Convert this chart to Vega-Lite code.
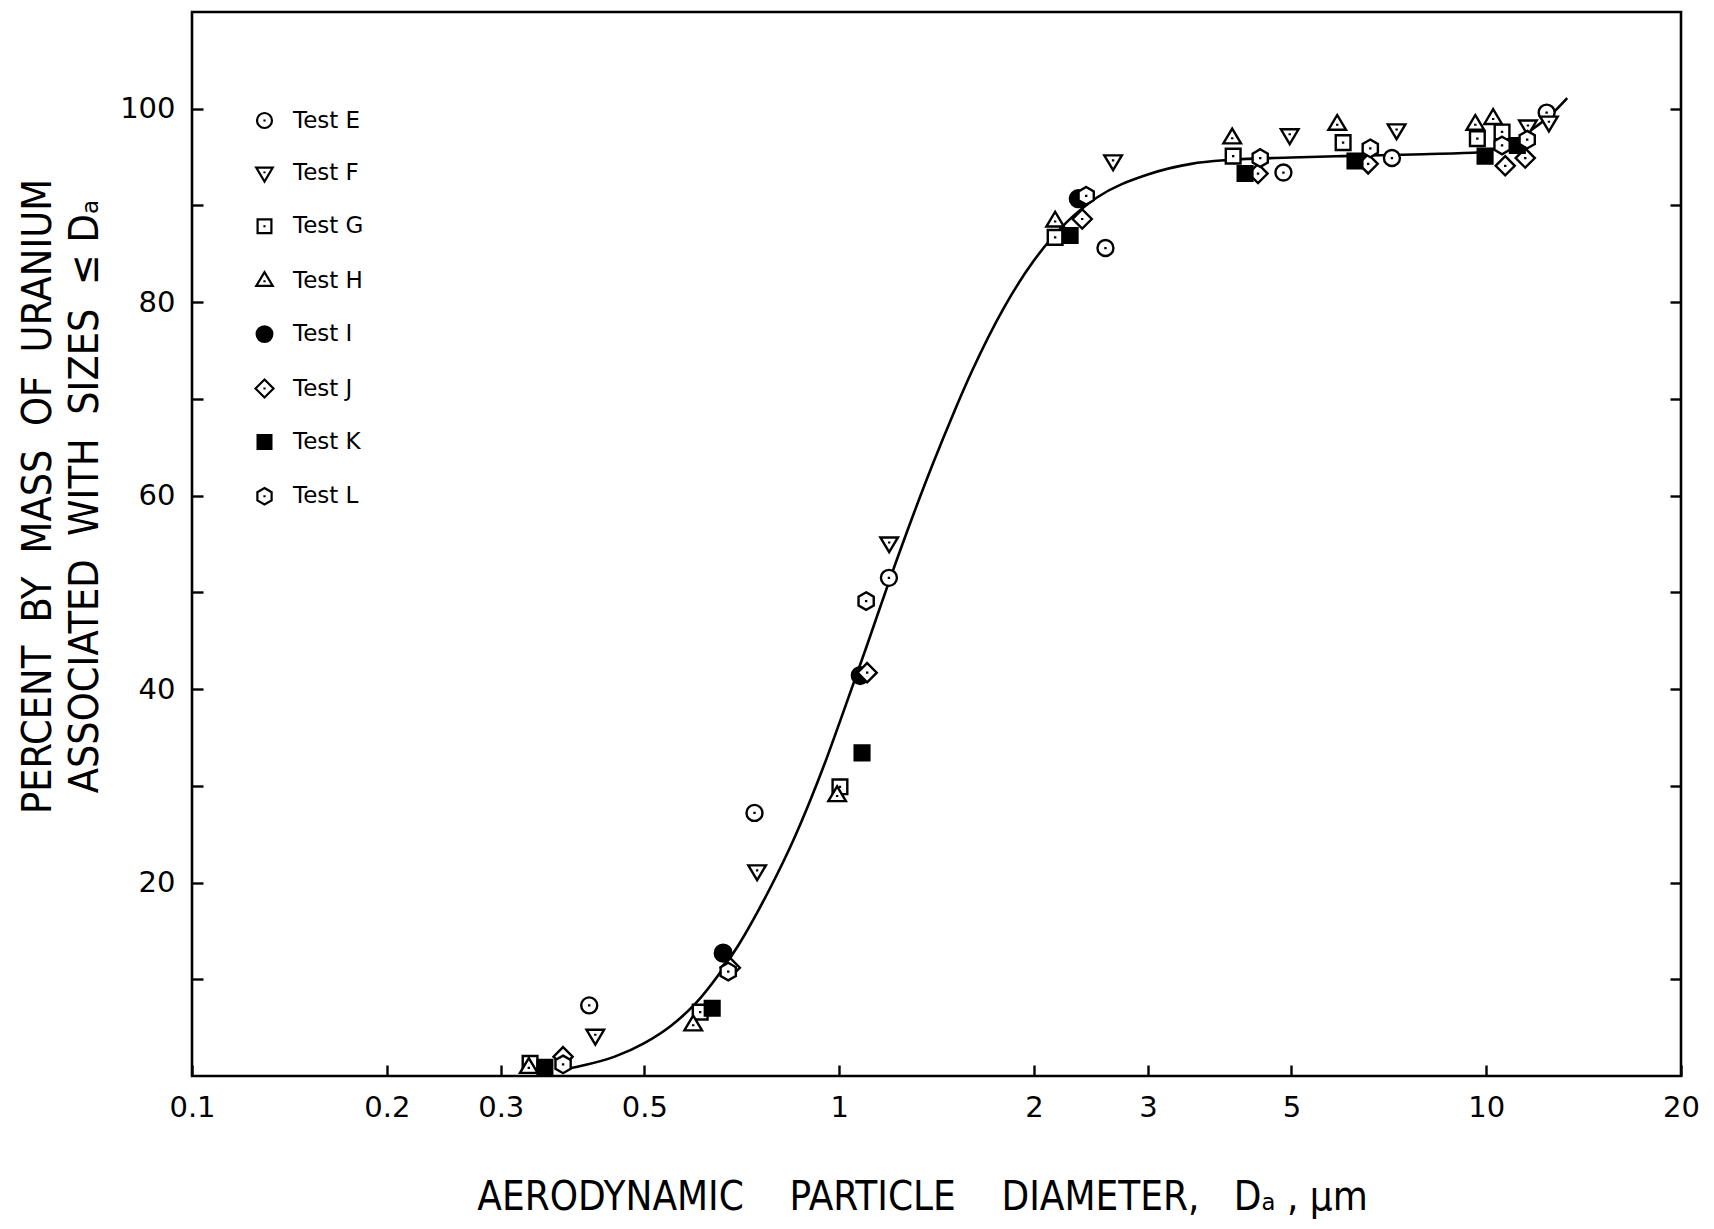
{
  "$schema": "https://vega.github.io/schema/vega-lite/v6.json",
  "width": 1489,
  "height": 1064,
  "autosize": "none",
  "padding": {"left": 192, "top": 12, "right": 33, "bottom": 153},
  "background": "white",
  "config": {
    "view": {"stroke": "black", "strokeWidth": 2.6},
    "axis": {"grid": false, "domain": false, "tickColor": "black", "tickWidth": 2.4, "labelColor": "black", "titleColor": "black"}
  },
  "datasets": {
    "pts": [
      {"test": "Test E", "d": 0.411, "p": 7.3},
      {"test": "Test E", "d": 0.74, "p": 27.2},
      {"test": "Test E", "d": 1.194, "p": 51.5},
      {"test": "Test E", "d": 2.58, "p": 85.6},
      {"test": "Test E", "d": 4.86, "p": 93.4},
      {"test": "Test E", "d": 7.15, "p": 94.9},
      {"test": "Test E", "d": 12.4, "p": 99.6},
      {"test": "Test F", "d": 0.42, "p": 4.2},
      {"test": "Test F", "d": 0.747, "p": 21.2},
      {"test": "Test F", "d": 1.195, "p": 55.1},
      {"test": "Test F", "d": 2.651, "p": 94.6},
      {"test": "Test F", "d": 4.97, "p": 97.3},
      {"test": "Test F", "d": 7.27, "p": 97.8},
      {"test": "Test F", "d": 11.6, "p": 98.2},
      {"test": "Test F", "d": 12.5, "p": 98.6},
      {"test": "Test G", "d": 0.333, "p": 1.3},
      {"test": "Test G", "d": 0.61, "p": 6.6},
      {"test": "Test G", "d": 1.003, "p": 29.9},
      {"test": "Test G", "d": 2.157, "p": 86.7},
      {"test": "Test G", "d": 4.064, "p": 95.1},
      {"test": "Test G", "d": 6.01, "p": 96.5},
      {"test": "Test G", "d": 9.69, "p": 96.9},
      {"test": "Test G", "d": 10.58, "p": 97.6},
      {"test": "Test H", "d": 0.3315, "p": 0.9},
      {"test": "Test H", "d": 0.595, "p": 5.3},
      {"test": "Test H", "d": 0.993, "p": 29.0},
      {"test": "Test H", "d": 2.157, "p": 88.4},
      {"test": "Test H", "d": 4.05, "p": 97.0},
      {"test": "Test H", "d": 5.885, "p": 98.4},
      {"test": "Test H", "d": 9.62, "p": 98.4},
      {"test": "Test H", "d": 10.25, "p": 99.0},
      {"test": "Test I", "d": 0.662, "p": 12.7},
      {"test": "Test I", "d": 1.078, "p": 41.4},
      {"test": "Test I", "d": 2.342, "p": 90.7},
      {"test": "Test J", "d": 0.3745, "p": 2.0},
      {"test": "Test J", "d": 0.679, "p": 11.2},
      {"test": "Test J", "d": 1.105, "p": 41.7},
      {"test": "Test J", "d": 2.375, "p": 88.6},
      {"test": "Test J", "d": 4.44, "p": 93.3},
      {"test": "Test J", "d": 6.57, "p": 94.3},
      {"test": "Test J", "d": 10.7, "p": 94.1},
      {"test": "Test J", "d": 11.49, "p": 94.9},
      {"test": "Test K", "d": 0.351, "p": 0.9},
      {"test": "Test K", "d": 0.6366, "p": 7.0},
      {"test": "Test K", "d": 1.085, "p": 33.4},
      {"test": "Test K", "d": 2.275, "p": 86.9},
      {"test": "Test K", "d": 4.24, "p": 93.3},
      {"test": "Test K", "d": 6.27, "p": 94.6},
      {"test": "Test K", "d": 9.96, "p": 95.1},
      {"test": "Test K", "d": 11.17, "p": 96.2},
      {"test": "Test L", "d": 0.3745, "p": 1.2},
      {"test": "Test L", "d": 0.674, "p": 10.8},
      {"test": "Test L", "d": 1.101, "p": 49.1},
      {"test": "Test L", "d": 2.409, "p": 91.0},
      {"test": "Test L", "d": 4.475, "p": 94.9},
      {"test": "Test L", "d": 6.62, "p": 95.9},
      {"test": "Test L", "d": 10.58, "p": 96.2},
      {"test": "Test L", "d": 11.57, "p": 96.8}
    ],
    "curve": [
      {"d": 0.37, "p": 0.6},
      {"d": 0.4, "p": 1.05},
      {"d": 0.45, "p": 2.0},
      {"d": 0.5, "p": 3.4},
      {"d": 0.55, "p": 5.2},
      {"d": 0.6, "p": 7.5},
      {"d": 0.65, "p": 10.4},
      {"d": 0.7, "p": 13.6},
      {"d": 0.75, "p": 17.1},
      {"d": 0.8, "p": 20.7},
      {"d": 0.85, "p": 24.4},
      {"d": 0.9, "p": 28.3},
      {"d": 0.95, "p": 32.3},
      {"d": 1.0, "p": 36.4},
      {"d": 1.1, "p": 44.2},
      {"d": 1.2, "p": 51.5},
      {"d": 1.3, "p": 57.9},
      {"d": 1.4, "p": 63.5},
      {"d": 1.5, "p": 68.4},
      {"d": 1.6, "p": 72.7},
      {"d": 1.8, "p": 79.5},
      {"d": 2.0, "p": 84.3},
      {"d": 2.25, "p": 88.3},
      {"d": 2.5, "p": 90.8},
      {"d": 3.0, "p": 93.2},
      {"d": 3.5, "p": 94.3},
      {"d": 4.0, "p": 94.7},
      {"d": 5.0, "p": 94.95},
      {"d": 6.0, "p": 95.1},
      {"d": 8.0, "p": 95.3},
      {"d": 9.8, "p": 95.5},
      {"d": 10.4, "p": 95.9},
      {"d": 11.0, "p": 96.6},
      {"d": 11.8, "p": 97.9},
      {"d": 12.6, "p": 99.4},
      {"d": 13.34, "p": 101.1}
    ]
  },
  "layer": [
    {
      "data": {"name": "curve"},
      "mark": {"type": "line", "interpolate": "monotone", "stroke": "black", "strokeWidth": 2.6},
      "encoding": {
        "x": {
          "field": "d", "type": "quantitative",
          "scale": {"type": "log", "domain": [0.1, 20], "nice": false},
          "axis": {
            "orient": "bottom",
            "values": [0.1, 0.2, 0.3, 0.5, 1, 2, 3, 5, 10, 20],
            "format": "~g",
            "tickSize": -11,
            "labelPadding": 28,
            "labelFont": "DejaVu Sans",
            "labelFontSize": 29,
            "labelFlush": false,
            "labelOverlap": false,
            "title": "AERODYNAMIC\u00a0\u00a0\u00a0\u00a0PARTICLE\u00a0\u00a0\u00a0\u00a0DIAMETER,\u00a0\u00a0\u00a0Dₐ\u00a0,\u00a0μm",
            "titleFont": "DejaVu Sans Condensed, Liberation Sans Narrow, DejaVu Sans",
            "titleFontSize": 40,
            "titleFontWeight": "normal",
            "titleX": 730,
            "titleY": 133,
            "titleAlign": "center",
            "titleBaseline": "alphabetic",
            "titleAnchor": null
          }
        },
        "y": {
          "field": "p", "type": "quantitative",
          "scale": {"domain": [0, 110], "nice": false},
          "axis": {
            "orient": "left",
            "values": [10, 20, 30, 40, 50, 60, 70, 80, 90, 100],
            "labelExpr": "datum.value % 20 == 0 ? datum.label : ''",
            "tickSize": -11,
            "labelPadding": 28,
            "labelFont": "DejaVu Sans",
            "labelFontSize": 29,
            "labelOverlap": false,
            "title": ["PERCENT\u00a0\u00a0BY\u00a0\u00a0MASS\u00a0\u00a0OF\u00a0\u00a0URANIUM", "ASSOCIATED\u00a0\u00a0WITH\u00a0\u00a0SIZES\u00a0\u00a0≤\u00a0Dₐ"],
            "titleFont": "DejaVu Sans Condensed, Liberation Sans Narrow, DejaVu Sans",
            "titleFontSize": 41,
            "titleFontWeight": "normal",
            "titleAngle": -90,
            "titleX": -142,
            "titleY": 484,
            "titleAlign": "center",
            "titleBaseline": "alphabetic",
            "titleLineHeight": 47
          }
        }
      }
    },
    {
      "data": {"name": "pts"},
      "mark": {"type": "point", "stroke": "black", "strokeWidth": 2.4, "opacity": 1, "size": 256},
      "encoding": {
        "x": {"field": "d", "type": "quantitative"},
        "y": {
          "field": "p", "type": "quantitative",
          "axis": {
            "orient": "right",
            "values": [10, 20, 30, 40, 50, 60, 70, 80, 90, 100],
            "labels": false,
            "tickSize": -11,
            "title": null
          }
        },
        "shape": {
          "field": "test", "type": "nominal",
          "scale": {
            "domain": ["Test E", "Test F", "Test G", "Test H", "Test I", "Test J", "Test K", "Test L"],
            "range": [
              "M1,0A1,1,0,1,1,-1,0A1,1,0,1,1,1,0Z M0,-0.14L0,0.14",
              "M-1.1,-0.7L1.1,-0.7L0,1.15Z M0,-0.2L0,0.06",
              "M-0.92,-0.92L0.92,-0.92L0.92,0.92L-0.92,0.92Z M0,-0.14L0,0.14",
              "M-1.1,0.7L1.1,0.7L0,-1.15Z M0,-0.06L0,0.2",
              "M1.05,0A1.05,1.05,0,1,1,-1.05,0A1.05,1.05,0,1,1,1.05,0Z",
              "M0,-1.2L1.2,0L0,1.2L-1.2,0Z M0,-0.14L0,0.14",
              "M-0.92,-0.92L0.92,-0.92L0.92,0.92L-0.92,0.92Z",
              "M0,-1.1L0.95,-0.55L0.95,0.55L0,1.1L-0.95,0.55L-0.95,-0.55Z M0,-0.14L0,0.14"
            ]
          },
          "legend": {
            "title": null, "orient": "none", "legendX": 61, "legendY": 97, "direction": "vertical",
            "symbolSize": 225, "symbolStrokeWidth": 2.2, "symbolStrokeColor": "black", "symbolOpacity": 1,
            "labelFont": "DejaVu Sans", "labelFontSize": 23, "labelColor": "black", "labelOffset": 17, "rowPadding": 28.4,
            "encode": {"symbols": {"update": {"stroke": {"value": "black"}, "strokeWidth": {"value": 2.2}, "opacity": {"value": 1}}}}
          }
        },
        "fill": {
          "field": "test", "type": "nominal",
          "scale": {
            "domain": ["Test E", "Test F", "Test G", "Test H", "Test I", "Test J", "Test K", "Test L"],
            "range": ["white", "white", "white", "white", "black", "white", "black", "white"]
          },
          "legend": {
            "title": null, "orient": "none", "legendX": 61, "legendY": 97, "direction": "vertical",
            "symbolSize": 225, "symbolStrokeWidth": 2.2, "symbolStrokeColor": "black", "symbolOpacity": 1,
            "labelFont": "DejaVu Sans", "labelFontSize": 23, "labelColor": "black", "labelOffset": 17, "rowPadding": 28.4,
            "encode": {"symbols": {"update": {"stroke": {"value": "black"}, "strokeWidth": {"value": 2.2}, "opacity": {"value": 1}}}}
          }
        }
      }
    }
  ],
  "resolve": {"axis": {"y": "independent"}}
}
